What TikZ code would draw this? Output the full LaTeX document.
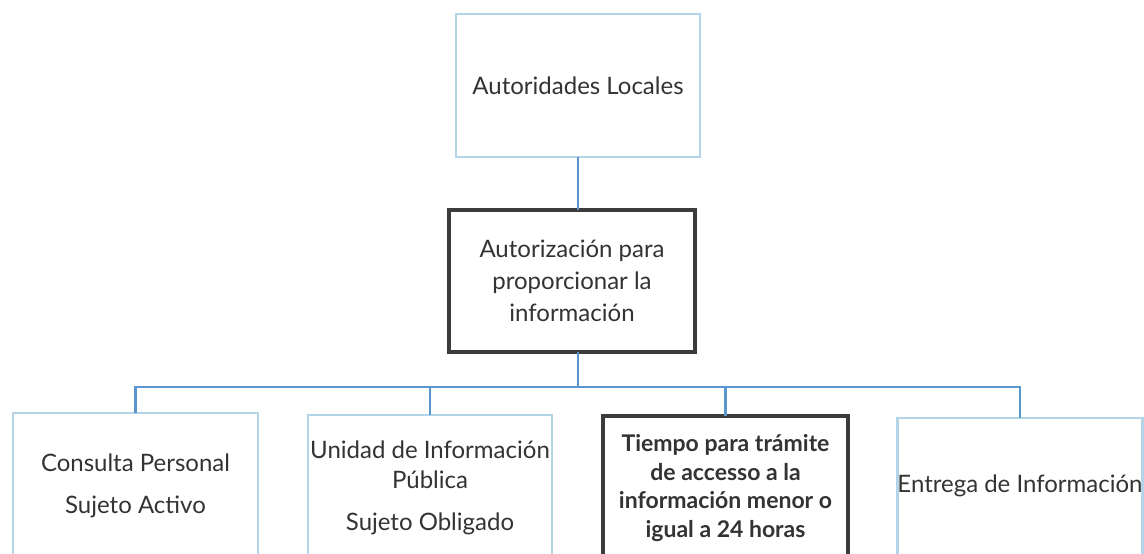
\documentclass[tikz,border=0pt]{standalone}
\usepackage{fontspec}
\setmainfont{Lato}
\definecolor{lightbox}{HTML}{B4D4EA}
\definecolor{darkbox}{HTML}{3C3C3C}
\definecolor{connblue}{HTML}{5B97CF}
\definecolor{txt}{HTML}{333333}
\tikzset{
  boxbase/.style={rectangle, line width=2.8pt, fill=white, text=txt, align=center,
    inner sep=0pt, font=\fontsize{24}{30}\selectfont},
  lightbox/.style={boxbase, draw=lightbox},
  darkbox/.style={boxbase, draw=darkbox, line width=3.2pt},
  conn/.style={draw=connblue, line width=2.8pt, line cap=rect}
}
\begin{document}
\begin{tikzpicture}[x=1pt,y=-1pt]
\useasboundingbox (0,0) rectangle (1144,554);
\fill[white] (0,0) rectangle (1144,554);
\begin{scope}
\clip (0,0) rectangle (1144,554);
\node[lightbox, minimum width=244pt, minimum height=143pt] (top) at (578,85.5) {Autoridades Locales};
\node[darkbox, minimum width=246pt, minimum height=142pt, font=\fontsize{24}{32}\selectfont] (mid) at (572,281)
  {Autorización para\\proporcionar la\\información};
\coordinate (bus) at (578,387);
\node[lightbox, minimum width=245pt, minimum height=146pt] (b1) at (135.5,486)
  {Consulta Personal\\[12pt]Sujeto Activo};
\node[lightbox, minimum width=244pt, minimum height=146pt] (b2) at (430,488)
  {Unidad de Información\\Pública\\[12pt]Sujeto Obligado};
\node[darkbox, minimum width=245pt, minimum height=146pt, font=\fontsize{23}{28.5}\selectfont\bfseries] (b3) at (725.5,489)
  {\raisebox{3pt}{\begin{tabular}{@{}c@{}}Tiempo para trámite\\de accesso a la\\información menor o\\igual a 24 horas\end{tabular}}};
\node[lightbox, minimum width=244pt, minimum height=146pt] (b4) at (1020,491)
  {\raisebox{14pt}{Entrega de Información}};
\draw[conn] (top.south) -- (top.south |- mid.north);
\draw[conn] (top.south |- mid.south) -- (bus);
\draw[conn] (b1.north) -- (b1.north |- bus) -- (b4.north |- bus) -- (b4.north);
\draw[conn] (b2.north) -- (b2.north |- bus);
\draw[conn] (b3.north) -- (b3.north |- bus);
\end{scope}
\end{tikzpicture}
\end{document}
